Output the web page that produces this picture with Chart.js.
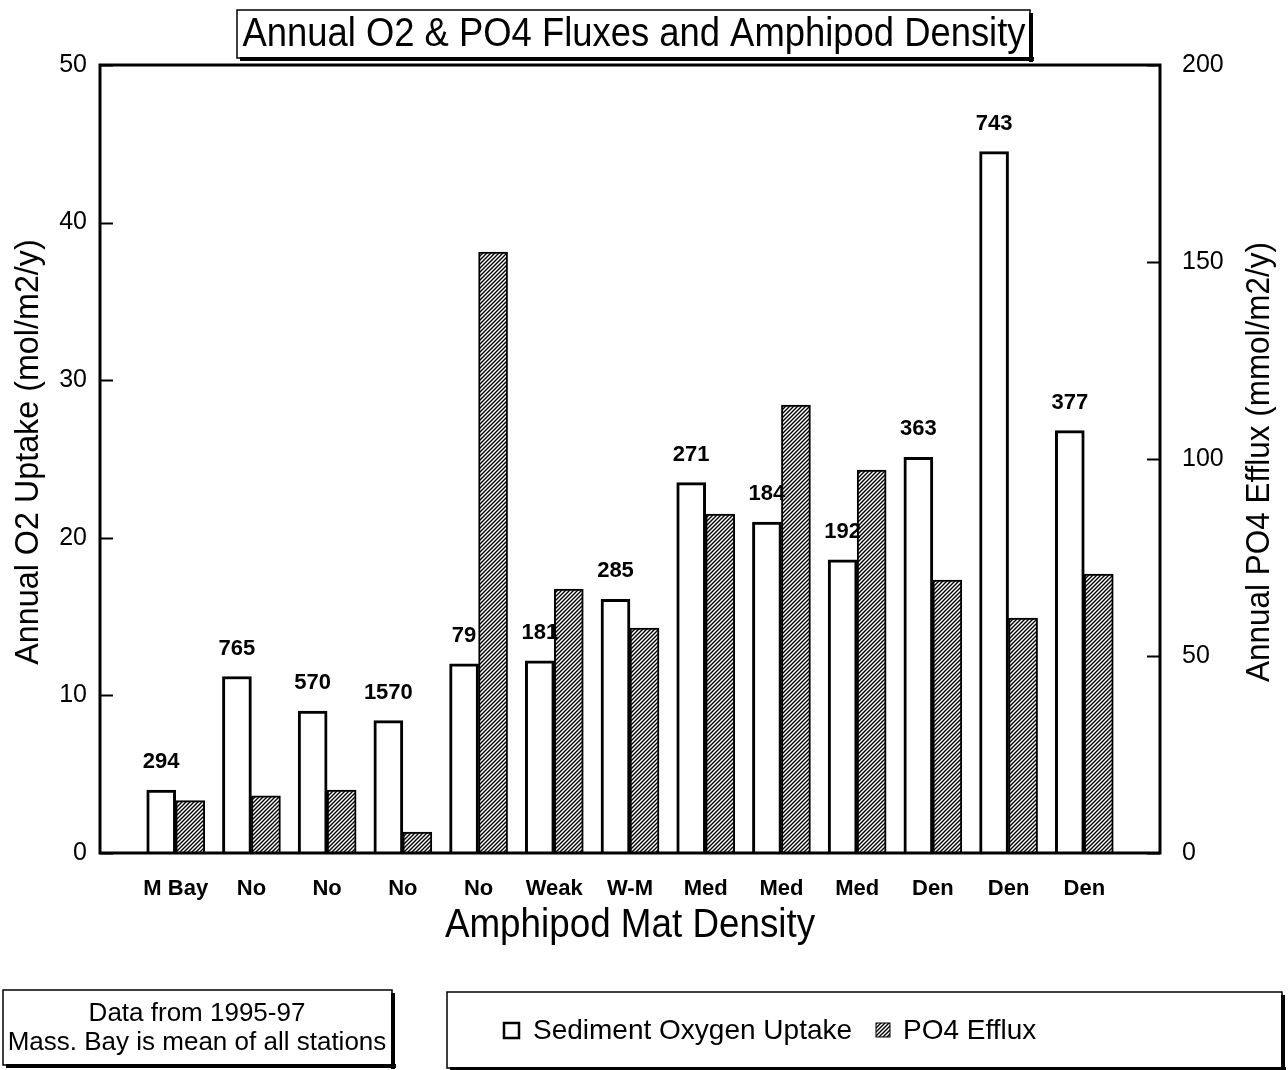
<!DOCTYPE html>
<html>
<head>
<meta charset="utf-8">
<script src="https://cdn.jsdelivr.net/npm/chart.js@4"></script>
<style>
html,body{margin:0;padding:0;background:#fff;}
#wrap{width:1288px;height:1070px;position:relative;}
</style>
</head>
<body>
<div id="wrap"><canvas id="c" width="1288" height="1070"></canvas></div>
<script>
const categories = ['M Bay','No','No','No','No','Weak','W-M','Med','Med','Med','Den','Den','Den'];
const o2Uptake = [4.0, 11.2, 9.0, 8.4, 12.0, 12.2, 16.1, 23.5, 21.0, 18.6, 25.1, 44.5, 26.8];
const po4Efflux = [13.3, 14.5, 16.0, 5.3, 152.5, 67.0, 57.1, 86.0, 113.7, 97.2, 69.3, 59.6, 70.8];
const densityLabels = ['294','765','570','1570','79','181','285','271','184','192','363','743','377'];
const leftTicks = [0,10,20,30,40,50];
const rightTicks = [0,50,100,150,200];

const FONT = '"Liberation Sans", Arial, Helvetica, sans-serif';

// padded labels so the categories sit one step in from each edge
const labels = [''].concat(categories, ['']);
const o2Data = [null].concat(o2Uptake, [null]);
const po4Data = [null].concat(po4Efflux, [null]);

function makeHatch() {
  const p = document.createElement('canvas');
  p.width = 4; p.height = 4;
  const g = p.getContext('2d');
  g.fillStyle = '#fff'; g.fillRect(0,0,4,4);
  g.strokeStyle = '#000'; g.lineWidth = 1.4;
  g.beginPath();
  g.moveTo(-1,5); g.lineTo(5,-1);
  g.moveTo(-1,1); g.lineTo(1,-1);
  g.moveTo(3,5); g.lineTo(5,3);
  g.stroke();
  return g.createPattern(p, 'repeat');
}
const ctx0 = document.getElementById('c').getContext('2d');
const hatch = makeHatch();

function shadowBox(ctx, x, y, w, h) {
  ctx.save();
  ctx.fillStyle = '#000';
  ctx.fillRect(x + w - 1, y + 3, 4, h + 1);
  ctx.fillRect(x + 3, y + h - 1, w + 1, 4);
  ctx.strokeStyle = '#000';
  ctx.lineWidth = 1.5;
  ctx.strokeRect(x, y, w, h);
  ctx.restore();
}

function txt(ctx, s, x, y, font, sx, rot) {
  ctx.save();
  ctx.translate(x, y);
  if (rot) ctx.rotate(rot);
  ctx.scale(sx, 1);
  ctx.font = font;
  ctx.fillText(s, 0, 0);
  ctx.restore();
}

const decor = {
  id: 'decor',
  beforeDraw(chart) {
    const ctx = chart.ctx;
    ctx.save();
    ctx.fillStyle = '#fff';
    ctx.fillRect(0, 0, chart.width, chart.height);
    ctx.restore();
  },
  afterDraw(chart) {
    const ctx = chart.ctx;
    const a = chart.chartArea;
    const yS = chart.scales.y, y1S = chart.scales.y1;
    ctx.save();
    // frame
    ctx.strokeStyle = '#000';
    ctx.lineWidth = 3;
    ctx.strokeRect(a.left, a.top, a.right - a.left, a.bottom - a.top);
    // inward ticks
    ctx.lineWidth = 2;
    ctx.beginPath();
    leftTicks.forEach(v => {
      const py = Math.round(yS.getPixelForValue(v)) + 0.5;
      ctx.moveTo(a.left, py); ctx.lineTo(a.left + 13, py);
    });
    rightTicks.forEach(v => {
      const py = Math.round(y1S.getPixelForValue(v)) + 0.5;
      ctx.moveTo(a.right, py); ctx.lineTo(a.right - 13, py);
    });
    ctx.stroke();

    // density labels above O2 bars
    const meta = chart.getDatasetMeta(0);
    ctx.fillStyle = '#000';
    ctx.textAlign = 'center';
    ctx.textBaseline = 'middle';
    meta.data.forEach((bar, i) => {
      if (o2Data[i] == null) return;
      txt(ctx, densityLabels[i - 1], bar.x, bar.y - 28, 'bold 22px ' + FONT, 1);
    });

    // title box
    shadowBox(ctx, 237, 10, 793, 48);
    txt(ctx, 'Annual O2 & PO4 Fluxes and Amphipod Density', 634, 35, '40px ' + FONT, 0.91);

    // axis titles
    txt(ctx, 'Annual O2 Uptake (mol/m2/y)', 29, 452, '34px ' + FONT, 0.95, -Math.PI / 2);
    txt(ctx, 'Annual PO4 Efflux (mmol/m2/y)', 1260, 462, '34px ' + FONT, 0.925, -Math.PI / 2);
    txt(ctx, 'Amphipod Mat Density', (a.left + a.right) / 2, 926, '40px ' + FONT, 0.92);

    // notes box
    shadowBox(ctx, 3, 990, 389, 75);
    txt(ctx, 'Data from 1995-97', 197, 1014, '26px ' + FONT, 1);
    txt(ctx, 'Mass. Bay is mean of all stations', 197, 1043, '26px ' + FONT, 1);

    // legend box
    shadowBox(ctx, 447, 992, 835, 76);
    ctx.lineWidth = 2.5;
    ctx.fillStyle = '#fff';
    ctx.fillRect(504, 1023, 15, 15);
    ctx.strokeRect(504, 1023, 15, 15);
    ctx.fillStyle = hatch;
    ctx.fillRect(876, 1023, 14, 14);
    ctx.lineWidth = 1;
    ctx.strokeRect(876, 1023, 14, 14);
    ctx.fillStyle = '#000';
    ctx.textAlign = 'left';
    txt(ctx, 'Sediment Oxygen Uptake', 533, 1031, '28px ' + FONT, 1);
    txt(ctx, 'PO4 Efflux', 903, 1031, '28px ' + FONT, 1);
    ctx.restore();
  }
};

new Chart(ctx0, {
  type: 'bar',
  data: {
    labels: labels,
    datasets: [
      {
        label: 'Sediment Oxygen Uptake',
        data: o2Data,
        yAxisID: 'y',
        backgroundColor: '#fff',
        borderColor: '#000',
        borderWidth: 3,
        barThickness: 29
      },
      {
        label: 'PO4 Efflux',
        data: po4Data,
        yAxisID: 'y1',
        backgroundColor: hatch,
        borderColor: '#000',
        borderWidth: 2,
        barThickness: 29
      }
    ]
  },
  options: {
    responsive: false,
    animation: false,
    events: [],
    layout: { padding: { top: 65, left: 0, right: 0, bottom: 0 } },
    plugins: {
      legend: { display: false },
      tooltip: { enabled: false },
      title: { display: false }
    },
    scales: {
      x: {
        type: 'category',
        offset: false,
        grid: { display: false, drawTicks: false },
        border: { display: false },
        ticks: {
          color: '#000',
          font: { family: FONT, size: 22, weight: 'bold' },
          padding: 23,
          maxRotation: 0,
          autoSkip: false
        },
        afterFit(s) { s.height = 217; }
      },
      y: {
        position: 'left',
        min: 0, max: 50,
        grid: { display: false, drawTicks: false },
        border: { display: false },
        ticks: {
          stepSize: 10,
          color: '#000',
          font: { family: FONT, size: 25 },
          padding: 13
        },
        afterFit(s) { s.width = 100; }
      },
      y1: {
        position: 'right',
        min: 0, max: 200,
        grid: { display: false, drawTicks: false },
        border: { display: false },
        ticks: {
          stepSize: 50,
          color: '#000',
          font: { family: FONT, size: 25 },
          padding: 22
        },
        afterFit(s) { s.width = 128; }
      }
    }
  },
  plugins: [decor]
});
</script>
</body>
</html>
